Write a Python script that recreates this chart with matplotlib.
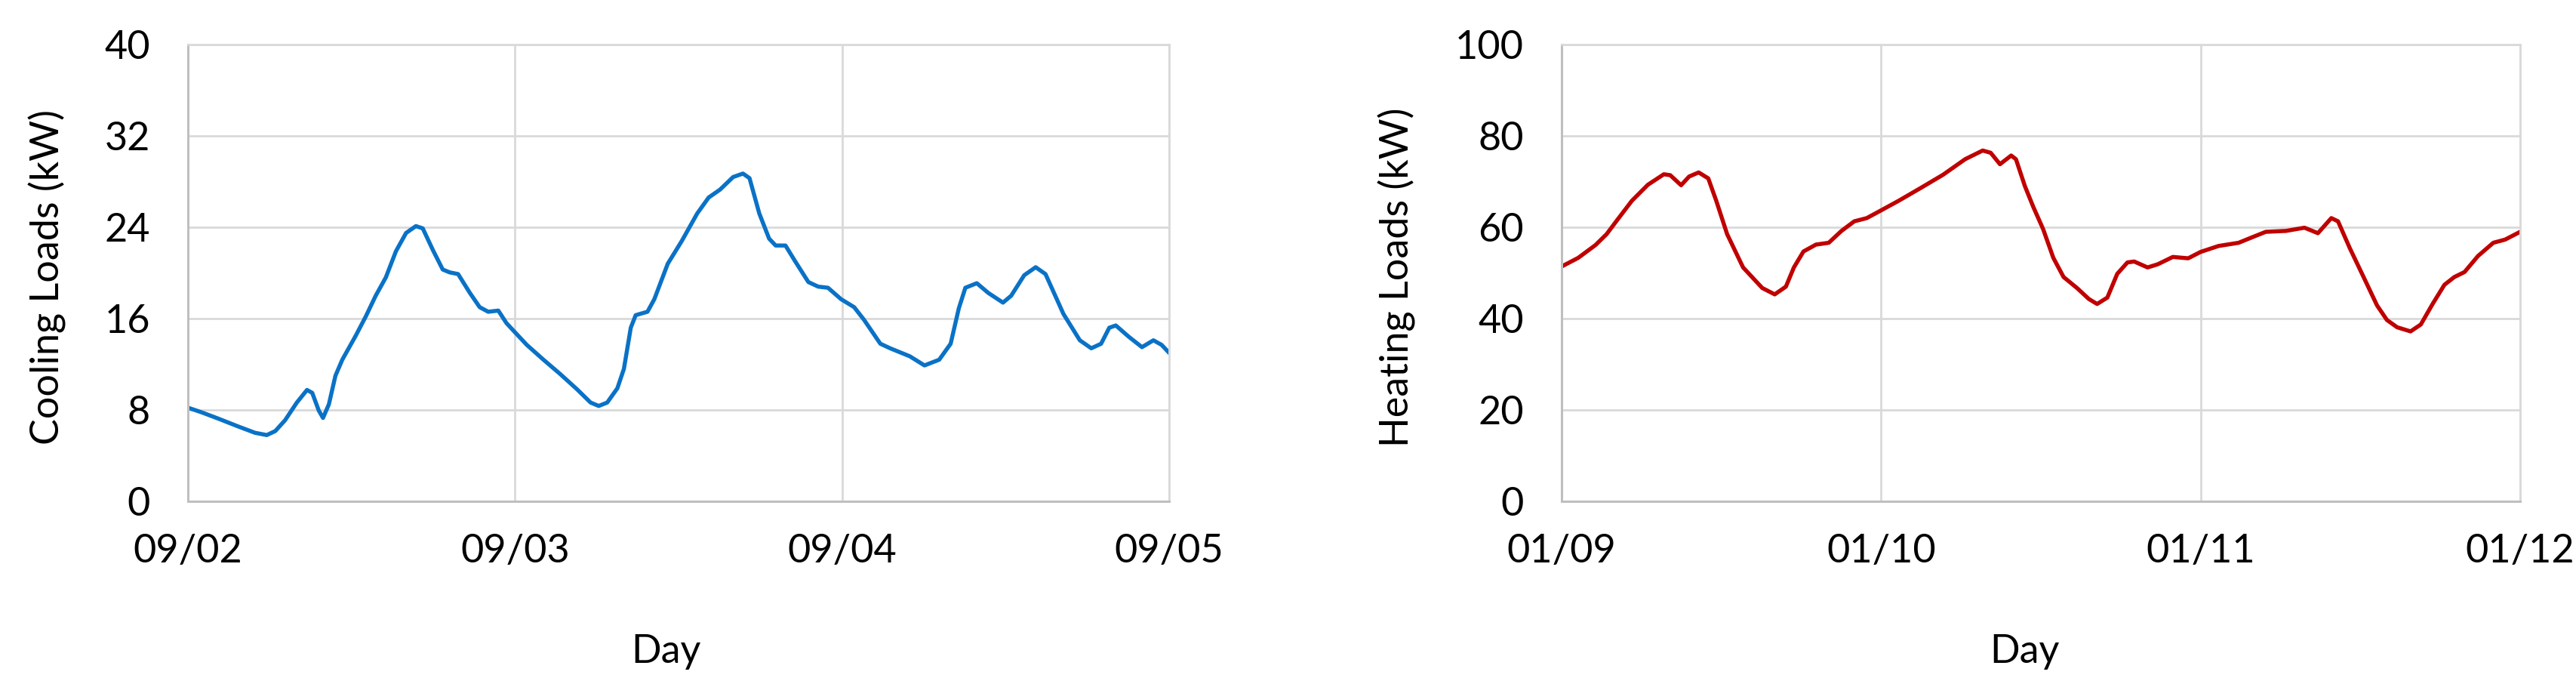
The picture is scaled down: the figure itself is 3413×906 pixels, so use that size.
import matplotlib
matplotlib.use("Agg")
import matplotlib.pyplot as plt

plt.rcParams['font.family'] = ['Lato', 'DejaVu Sans']

# ---- data ----
cool_days = [0, 0.041, 0.092, 0.154, 0.205, 0.241, 0.267, 0.297, 0.333, 0.364, 0.38, 0.40, 0.413,
             0.431, 0.451, 0.472, 0.513, 0.544, 0.574, 0.605, 0.636, 0.667, 0.697, 0.718, 0.749,
             0.779, 0.80, 0.826, 0.862, 0.892, 0.918, 0.949, 0.974, 1.0, 1.036, 1.087, 1.138,
             1.19, 1.231, 1.256, 1.282, 1.313, 1.333, 1.354, 1.369, 1.405, 1.426, 1.467, 1.51,
             1.557, 1.592, 1.627, 1.667, 1.697, 1.717, 1.747, 1.777, 1.797, 1.827, 1.857, 1.897,
             1.927, 1.957, 1.997, 2.037, 2.067, 2.117, 2.147, 2.207, 2.252, 2.297, 2.332, 2.357,
             2.377, 2.412, 2.447, 2.492, 2.517, 2.557, 2.592, 2.622, 2.677, 2.727, 2.762, 2.792,
             2.817, 2.837, 2.877, 2.917, 2.952, 2.977, 3.0]
cool_kw = [8.2, 7.8, 7.25, 6.55, 6.0, 5.8, 6.15, 7.1, 8.65, 9.75, 9.5, 7.95, 7.3,
           8.5, 11.0, 12.4, 14.5, 16.2, 18.0, 19.6, 21.9, 23.5, 24.1, 23.9, 22.0,
           20.3, 20.05, 19.9, 18.25, 17.0, 16.6, 16.7, 15.6, 14.8, 13.7, 12.4, 11.15,
           9.8, 8.65, 8.35, 8.65, 9.9, 11.6, 15.2, 16.3, 16.6, 17.7, 20.8, 22.8,
           25.2, 26.6, 27.3, 28.4, 28.7, 28.3, 25.2, 23.0, 22.4, 22.4, 21.0, 19.2,
           18.8, 18.7, 17.7, 17.0, 15.9, 13.8, 13.4, 12.7, 11.9, 12.4, 13.8, 16.9,
           18.7, 19.1, 18.25, 17.4, 18.0, 19.8, 20.5, 19.9, 16.4, 14.1, 13.4, 13.8,
           15.2, 15.4, 14.4, 13.5, 14.1, 13.7, 13.0]

heat_days = [0, 0.052, 0.106, 0.141, 0.171, 0.22, 0.27, 0.32, 0.34, 0.374, 0.399, 0.429, 0.459,
             0.484, 0.518, 0.568, 0.628, 0.667, 0.702, 0.727, 0.757, 0.796, 0.836, 0.876, 0.916,
             0.955, 1.0, 1.055, 1.124, 1.194, 1.263, 1.318, 1.343, 1.372, 1.407, 1.422, 1.45,
             1.476, 1.507, 1.539, 1.571, 1.613, 1.65, 1.676, 1.708, 1.739, 1.771, 1.792, 1.834,
             1.866, 1.913, 1.961, 2.0, 2.056, 2.119, 2.161, 2.204, 2.267, 2.325, 2.367, 2.409,
             2.43, 2.467, 2.51, 2.552, 2.583, 2.615, 2.657, 2.689, 2.726, 2.763, 2.794, 2.826,
             2.868, 2.916, 2.953, 3.0]
heat_kw = [51.4, 53.3, 56.1, 58.5, 61.3, 65.8, 69.3, 71.6, 71.4, 69.2, 71.1, 72.0, 70.7,
           65.8, 58.5, 51.2, 46.7, 45.3, 47.0, 51.2, 54.7, 56.2, 56.6, 59.2, 61.3,
           62.0, 63.7, 65.8, 68.6, 71.5, 74.9, 76.8, 76.3, 73.8, 75.7, 74.9, 69.0,
           64.5, 59.6, 53.3, 49.1, 46.7, 44.3, 43.2, 44.6, 49.8, 52.3, 52.5, 51.2,
           51.9, 53.5, 53.2, 54.6, 55.9, 56.6, 57.8, 59.0, 59.2, 59.9, 58.7, 62.0,
           61.3, 55.4, 49.1, 42.9, 39.7, 38.1, 37.2, 38.7, 43.2, 47.4, 49.1, 50.2,
           53.7, 56.6, 57.3, 59.0]

cool_xticklabels = ["09/02", "09/03", "09/04", "09/05"]
heat_xticklabels = ["01/09", "01/10", "01/11", "01/12"]
cool_yticks = [0, 8, 16, 24, 32, 40]
heat_yticks = [0, 20, 40, 60, 80, 100]

# ---- figure ----
W, H = 3413, 906
fig = plt.figure(figsize=(W / 100, H / 100), dpi=100)

FS = 37.5
GRID = '#D9D9D9'
SPINE = '#BFBFBF'


def setup(ax, yticks, xlabels):
    ax.set_xlim(0, 3)
    ax.set_ylim(yticks[0], yticks[-1])
    ax.set_xticks([0, 1, 2, 3])
    ax.set_xticklabels(xlabels)
    ax.set_yticks(yticks)
    ax.grid(True, color=GRID, linewidth=2.0)
    ax.set_axisbelow(True)
    for s in ['top', 'right']:
        ax.spines[s].set_color(GRID)
        ax.spines[s].set_linewidth(2.0)
    for s in ['left', 'bottom']:
        ax.spines[s].set_color(SPINE)
        ax.spines[s].set_linewidth(2.2)
    ax.tick_params(axis='both', length=0, labelsize=FS, colors='black')
    ax.tick_params(axis='x', pad=31)
    ax.tick_params(axis='y', pad=36)


ax1 = fig.add_axes([249 / W, 1 - 664 / H, 1300 / W, 605 / H])
ax1.plot(cool_days, cool_kw, color='#0A72C6', linewidth=3.9,
         solid_joinstyle='round', solid_capstyle='round')
setup(ax1, cool_yticks, cool_xticklabels)

ax2 = fig.add_axes([2069 / W, 1 - 664 / H, 1270 / W, 605 / H])
ax2.plot(heat_days, heat_kw, color='#C00000', linewidth=3.9,
         solid_joinstyle='round', solid_capstyle='round')
setup(ax2, heat_yticks, heat_xticklabels)

# axis titles
fig.text(63 / W, 1 - 367 / H, 'Cooling Loads (kW)', rotation=90, ha='center', va='center', fontsize=FS)
fig.text(1851 / W, 1 - 367 / H, 'Heating Loads (kW)', rotation=90, ha='center', va='center', fontsize=FS)
fig.text(882 / W, 1 - 878 / H, 'Day', ha='center', va='baseline', fontsize=FS)
fig.text(2682 / W, 1 - 878 / H, 'Day', ha='center', va='baseline', fontsize=FS)

fig.savefig('out.png', dpi=100, facecolor='white')
